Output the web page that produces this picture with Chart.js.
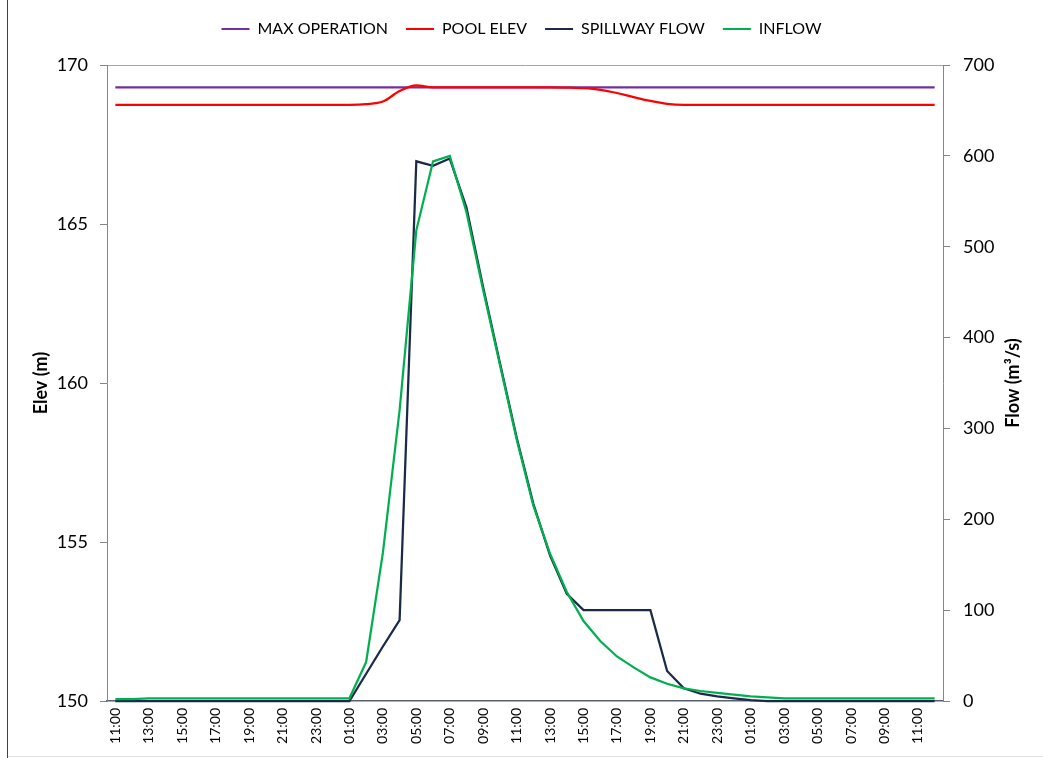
<!DOCTYPE html>
<html>
<head>
<meta charset="utf-8">
<title>Pool elevation and flows</title>
<script src="https://cdn.jsdelivr.net/npm/chart.js@4.4.1/dist/chart.umd.min.js"></script>
<style>
  html, body { margin: 0; padding: 0; background: #fff; }
  canvas { display: block; }
</style>
</head>
<body>
<canvas id="elevChart" width="1043" height="758"></canvas>
<script>
// hourly categories, 11:00 day 1 to 12:00 day 3
const hours = [
  '11:00', '12:00', '13:00', '14:00', '15:00', '16:00', '17:00', '18:00', '19:00', '20:00',
  '21:00', '22:00', '23:00', '00:00', '01:00', '02:00', '03:00', '04:00', '05:00', '06:00',
  '07:00', '08:00', '09:00', '10:00', '11:00', '12:00', '13:00', '14:00', '15:00', '16:00',
  '17:00', '18:00', '19:00', '20:00', '21:00', '22:00', '23:00', '00:00', '01:00', '02:00',
  '03:00', '04:00', '05:00', '06:00', '07:00', '08:00', '09:00', '10:00', '11:00', '12:00'
];

// elevations (m)
const maxOperation = [
  169.3, 169.3, 169.3, 169.3, 169.3, 169.3, 169.3, 169.3, 169.3, 169.3,
  169.3, 169.3, 169.3, 169.3, 169.3, 169.3, 169.3, 169.3, 169.3, 169.3,
  169.3, 169.3, 169.3, 169.3, 169.3, 169.3, 169.3, 169.3, 169.3, 169.3,
  169.3, 169.3, 169.3, 169.3, 169.3, 169.3, 169.3, 169.3, 169.3, 169.3,
  169.3, 169.3, 169.3, 169.3, 169.3, 169.3, 169.3, 169.3, 169.3, 169.3
];
const poolElev = [
  168.75, 168.75, 168.75, 168.75, 168.75, 168.75, 168.75, 168.75, 168.75, 168.75,
  168.75, 168.75, 168.75, 168.75, 168.75, 168.77, 168.85, 169.18, 169.36, 169.3,
  169.3, 169.3, 169.3, 169.3, 169.3, 169.3, 169.3, 169.29, 169.27, 169.22,
  169.12, 168.99, 168.87, 168.78, 168.75, 168.75, 168.75, 168.75, 168.75, 168.75,
  168.75, 168.75, 168.75, 168.75, 168.75, 168.75, 168.75, 168.75, 168.75, 168.75
];

// flows (m3/s)
const spillwayFlow = [
  0, 0, 0, 0, 0, 0, 0, 0, 0, 0,
  0, 0, 0, 0, 0, 30, 60, 89, 594, 589,
  597, 543, 455, 372, 290, 217, 160, 118, 100, 100,
  100, 100, 100, 33, 14, 8, 5, 3, 1, 0,
  0, 0, 0, 0, 0, 0, 0, 0, 0, 0
];
const inflow = [
  2, 2, 3, 3, 3, 3, 3, 3, 3, 3,
  3, 3, 3, 3, 3, 43, 163, 320, 518, 594,
  600, 538, 452, 370, 288, 215, 162, 120, 88, 66,
  49, 37, 26, 19, 14, 11, 9, 7, 5, 4,
  3, 3, 3, 3, 3, 3, 3, 3, 3, 3
];

const elevMin = 150, elevMax = 170, elevStep = 5;
const flowMin = 0, flowMax = 700, flowStep = 100;

const FONT = 'Lato, "Open Sans", sans-serif';
const AXIS_GRAY = '#868686';

// outer frame of the chart area (left edge and faint bottom edge)
const frame = {
  id: 'frame',
  beforeDraw(chart) {
    const { ctx, width, height } = chart;
    ctx.save();
    ctx.fillStyle = '#fff';
    ctx.fillRect(0, 0, width, height);
    ctx.lineWidth = 1;
    ctx.strokeStyle = '#404040';
    ctx.beginPath();
    ctx.moveTo(7.5, 0);
    ctx.lineTo(7.5, height);
    ctx.stroke();
    ctx.strokeStyle = '#e0e0e0';
    ctx.beginPath();
    ctx.moveTo(8, height - 1.5);
    ctx.lineTo(width, height - 1.5);
    ctx.stroke();
    ctx.restore();
  }
};

// right axis title reads bottom-to-top like the left one
const flowTitle = {
  id: 'flowTitle',
  afterDraw(chart) {
    const { ctx, chartArea } = chart;
    ctx.save();
    ctx.translate(chartArea.right + 70, (chartArea.top + chartArea.bottom) / 2);
    ctx.rotate(-Math.PI / 2);
    ctx.font = 'bold 18px ' + FONT;
    ctx.fillStyle = '#000';
    ctx.textAlign = 'center';
    ctx.textBaseline = 'middle';
    ctx.fillText('Flow (m³/s)', 0, 0);
    ctx.restore();
  }
};

// extra space between the legend and the plot
const legendGap = {
  id: 'legendGap',
  beforeInit(chart) {
    const legend = chart.legend;
    if (!legend) return;
    const fit = legend.fit;
    legend.fit = function () {
      fit.call(this);
      this.height += 18;
    };
  }
};

function lineSet(label, data, color, axis, order, smooth) {
  return {
    label,
    data,
    yAxisID: axis,
    borderColor: color,
    backgroundColor: color,
    borderWidth: 2.25,
    pointRadius: 0,
    cubicInterpolationMode: smooth ? 'monotone' : 'default',
    tension: 0,
    order,
    clip: false
  };
}

const ctx = document.getElementById('elevChart').getContext('2d');
new Chart(ctx, {
  type: 'line',
  data: {
    labels: hours,
    datasets: [
      lineSet('MAX OPERATION', maxOperation, '#7030A0', 'y', 3, false),
      lineSet('POOL ELEV', poolElev, '#FF0000', 'y', 2, true),
      lineSet('SPILLWAY FLOW', spillwayFlow, '#1B2A47', 'y1', 1, false),
      lineSet('INFLOW', inflow, '#00B050', 'y1', 0, false)
    ]
  },
  options: {
    responsive: false,
    animation: false,
    layout: { padding: { top: 3, left: 0, right: 0, bottom: 0 } },
    plugins: {
      tooltip: { enabled: false },
      legend: {
        position: 'top',
        labels: {
          color: '#000',
          font: { family: FONT, size: 16 },
          boxWidth: 28,
          boxHeight: 2,
          padding: 18,
          sort: (a, b) => a.datasetIndex - b.datasetIndex,
          generateLabels(chart) {
            return Chart.defaults.plugins.legend.labels.generateLabels(chart)
              .map(item => ({ ...item, fillStyle: item.strokeStyle, lineWidth: 0 }));
          }
        }
      }
    },
    scales: {
      x: {
        offset: true,
        grid: { display: false, drawTicks: false },
        border: { display: true, color: '#56606e', width: 1.5 },
        ticks: {
          autoSkip: false,
          maxRotation: 90,
          minRotation: 90,
          padding: 7,
          color: '#000',
          font: { family: FONT, size: 14 },
          callback: (value, index) => (index % 2 === 0 ? hours[index] : '')
        },
        afterFit(scale) { scale.height = 57; }
      },
      y: {
        position: 'left',
        min: elevMin,
        max: elevMax,
        ticks: { stepSize: elevStep, padding: 12, color: '#000', font: { family: FONT, size: 18 } },
        grid: {
          color: c => (c.tick && c.tick.value === elevMax ? '#a6a6a6' : 'rgba(0,0,0,0)'),
          tickColor: AXIS_GRAY,
          tickLength: 7
        },
        border: { color: AXIS_GRAY },
        title: {
          display: true,
          text: 'Elev (m)',
          color: '#000',
          font: { family: FONT, size: 18, weight: 'bold' },
          padding: { top: 30, bottom: 0 }
        },
        afterFit(scale) { scale.width = 107; }
      },
      y1: {
        position: 'right',
        min: flowMin,
        max: flowMax,
        ticks: { stepSize: flowStep, padding: 13, color: '#000', font: { family: FONT, size: 18 } },
        grid: { drawOnChartArea: false, tickColor: AXIS_GRAY, tickLength: 7 },
        border: { color: AXIS_GRAY },
        afterFit(scale) { scale.width = 100; }
      }
    }
  },
  plugins: [frame, flowTitle, legendGap]
});
</script>
</body>
</html>
